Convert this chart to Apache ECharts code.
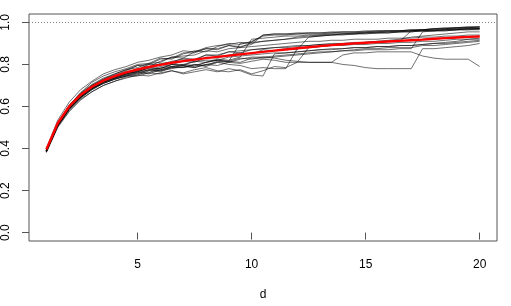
<!DOCTYPE html>
<html>
<head>
<meta charset="utf-8">
<script src="https://cdn.jsdelivr.net/npm/echarts@6/dist/echarts.min.js"></script>
<style>html,body{margin:0;padding:0;background:#fff}#c{width:511px;height:306px}</style>
</head>
<body>
<div id="c"></div>
<script>
const d = [1,1.5,2,2.5,3,3.5,4,4.5,5,5.5,6,6.5,7,7.5,8,8.5,9,9.5,10,10.5,11,11.5,12,12.5,13,13.5,14,14.5,15,15.5,16,16.5,17,17.5,18,18.5,19,19.5,20];
const xTicks = [5,10,15,20];
const yTicks = [0,0.2,0.4,0.6,0.8,1.0];
const refLevel = 1.0;

const meanLine = [0.395,0.52,0.60,0.655,0.694,0.723,0.744,0.762,0.776,0.788,0.798,0.808,0.816,0.823,0.83,0.836,0.842,0.848,0.854,0.86,0.866,0.871,0.877,0.882,0.887,0.892,0.896,0.900,0.903,0.906,0.909,0.912,0.915,0.918,0.922,0.925,0.928,0.931,0.933];

const s1 = [0.39,0.52,0.605,0.665,0.715,0.745,0.765,0.78,0.80,0.805,0.83,0.825,0.85,0.865,0.86,0.885,0.90,0.895,0.91,0.935,0.94,0.94,0.945,0.945,0.945,0.95,0.95,0.95,0.955,0.955,0.96,0.96,0.96,0.965,0.97,0.975,0.975,0.98,0.98];
const s2 = [0.39,0.515,0.60,0.655,0.70,0.73,0.75,0.77,0.795,0.79,0.815,0.835,0.83,0.86,0.875,0.87,0.89,0.88,0.905,0.94,0.945,0.945,0.945,0.95,0.95,0.95,0.955,0.955,0.955,0.96,0.96,0.96,0.965,0.965,0.97,0.97,0.975,0.975,0.975];
const s3 = [0.385,0.51,0.59,0.645,0.685,0.715,0.735,0.755,0.765,0.785,0.78,0.80,0.815,0.81,0.835,0.83,0.845,0.855,0.85,0.87,0.865,0.875,0.87,0.93,0.935,0.94,0.94,0.945,0.945,0.95,0.95,0.955,0.955,0.96,0.96,0.965,0.965,0.97,0.97];
const s4 = [0.385,0.505,0.58,0.635,0.67,0.70,0.72,0.735,0.75,0.745,0.76,0.77,0.76,0.775,0.785,0.77,0.765,0.775,0.755,0.77,0.79,0.785,0.81,0.88,0.885,0.89,0.895,0.90,0.905,0.91,0.915,0.92,0.93,0.935,0.94,0.945,0.95,0.955,0.955];
const s5 = [0.39,0.51,0.59,0.645,0.685,0.715,0.735,0.75,0.765,0.76,0.785,0.79,0.80,0.795,0.81,0.82,0.815,0.83,0.825,0.835,0.83,0.82,0.815,0.81,0.81,0.81,0.80,0.795,0.785,0.78,0.78,0.78,0.78,0.875,0.875,0.88,0.885,0.89,0.90];
const s6 = [0.39,0.515,0.595,0.65,0.69,0.72,0.74,0.755,0.77,0.78,0.775,0.785,0.795,0.785,0.80,0.795,0.81,0.805,0.815,0.825,0.82,0.81,0.81,0.81,0.81,0.81,0.845,0.855,0.855,0.86,0.86,0.86,0.86,0.84,0.83,0.825,0.825,0.825,0.79];
const s7 = [0.39,0.52,0.60,0.66,0.70,0.73,0.755,0.775,0.785,0.805,0.81,0.835,0.84,0.845,0.865,0.86,0.875,0.88,0.885,0.89,0.895,0.90,0.905,0.91,0.91,0.915,0.915,0.92,0.92,0.92,0.925,0.925,0.925,0.93,0.93,0.935,0.935,0.94,0.94];
const s8 = [0.385,0.51,0.585,0.64,0.68,0.71,0.73,0.745,0.76,0.755,0.775,0.79,0.795,0.79,0.81,0.82,0.815,0.90,0.905,0.91,0.915,0.92,0.925,0.93,0.935,0.94,0.945,0.945,0.95,0.95,0.955,0.955,0.96,0.96,0.965,0.965,0.97,0.97,0.97];
const s9 = [0.38,0.50,0.575,0.63,0.67,0.70,0.72,0.74,0.745,0.76,0.755,0.77,0.755,0.765,0.775,0.765,0.78,0.77,0.75,0.745,0.85,0.855,0.86,0.865,0.87,0.875,0.875,0.88,0.88,0.885,0.885,0.89,0.89,0.895,0.90,0.905,0.91,0.92,0.92];
const s10 = [0.40,0.535,0.62,0.68,0.72,0.755,0.775,0.79,0.81,0.82,0.835,0.845,0.865,0.86,0.88,0.89,0.895,0.905,0.90,0.91,0.915,0.92,0.93,0.935,0.94,0.94,0.945,0.945,0.95,0.95,0.95,0.955,0.955,0.96,0.96,0.96,0.965,0.965,0.965];
const s11 = [0.39,0.51,0.59,0.645,0.685,0.715,0.735,0.75,0.76,0.775,0.77,0.79,0.785,0.80,0.795,0.815,0.81,0.825,0.835,0.835,0.84,0.845,0.85,0.855,0.86,0.86,0.865,0.865,0.87,0.87,0.87,0.875,0.875,0.955,0.96,0.96,0.965,0.965,0.97];
const s12 = [0.385,0.505,0.585,0.64,0.68,0.71,0.73,0.745,0.755,0.775,0.77,0.78,0.79,0.785,0.80,0.81,0.80,0.795,0.78,0.785,0.78,0.78,0.875,0.88,0.885,0.89,0.89,0.895,0.895,0.90,0.90,0.905,0.905,0.91,0.91,0.915,0.92,0.92,0.925];
const s13 = [0.39,0.52,0.605,0.665,0.705,0.735,0.755,0.775,0.795,0.80,0.825,0.83,0.855,0.855,0.875,0.875,0.89,0.885,0.895,0.94,0.945,0.945,0.95,0.95,0.95,0.955,0.955,0.955,0.96,0.96,0.96,0.96,0.965,0.965,0.97,0.97,0.975,0.975,0.98];
const s14 = [0.385,0.51,0.59,0.645,0.685,0.71,0.73,0.745,0.75,0.77,0.765,0.785,0.785,0.80,0.79,0.81,0.815,0.81,0.83,0.83,0.835,0.84,0.845,0.85,0.855,0.86,0.865,0.87,0.875,0.875,0.88,0.88,0.88,0.89,0.89,0.895,0.90,0.905,0.91];
const s15 = [0.39,0.515,0.595,0.655,0.695,0.725,0.745,0.765,0.775,0.80,0.80,0.815,0.825,0.82,0.845,0.845,0.86,0.855,0.87,0.875,0.88,0.885,0.89,0.89,0.895,0.90,0.90,0.905,0.905,0.91,0.91,0.915,0.915,0.92,0.92,0.925,0.93,0.93,0.935];
const s16 = [0.385,0.51,0.59,0.645,0.69,0.72,0.74,0.76,0.765,0.785,0.78,0.80,0.795,0.815,0.81,0.825,0.82,0.835,0.92,0.925,0.93,0.935,0.935,0.94,0.94,0.945,0.945,0.95,0.95,0.955,0.955,0.96,0.96,0.965,0.965,0.97,0.97,0.975,0.975];
const s17 = [0.39,0.515,0.60,0.66,0.70,0.725,0.745,0.76,0.78,0.785,0.805,0.81,0.83,0.825,0.845,0.84,0.86,0.865,0.87,0.875,0.88,0.88,0.885,0.89,0.895,0.895,0.90,0.90,0.905,0.905,0.91,0.91,0.96,0.96,0.96,0.965,0.965,0.97,0.97];
const s18 = [0.39,0.51,0.59,0.645,0.69,0.72,0.74,0.755,0.77,0.77,0.79,0.80,0.80,0.815,0.82,0.82,0.835,0.84,0.845,0.85,0.855,0.855,0.86,0.865,0.87,0.87,0.875,0.88,0.88,0.885,0.885,0.89,0.89,0.895,0.90,0.90,0.905,0.91,0.915];

const runs = [s1,s2,s3,s4,s5,s6,s7,s8,s9,s10,s11,s12,s13,s14,s15,s16,s17,s18];

const FONT = '"Liberation Sans", Arial, sans-serif';
const pair = arr => arr.map((v,i)=>[d[i], v]);

const series = runs.map((r, k) => ({
  type: 'line', data: pair(r), symbol: 'none', silent: true,
  lineStyle: { color: 'rgba(0,0,0,0.7)', width: 0.8 }, z: 2
}));
series.push({
  type: 'line', data: pair(meanLine), symbol: 'none', silent: true,
  lineStyle: { color: '#ff0000', width: 2.4 }, z: 5,
  markLine: {
    silent: true, symbol: 'none', label: { show: false },
    lineStyle: { color: '#808080', type: [1, 2], width: 1 },
    data: [{ yAxis: refLevel }]
  }
});

const chart = echarts.init(document.getElementById('c'), null, { renderer: 'canvas' });
chart.setOption({
  animation: false,
  backgroundColor: '#fff',
  grid: { left: 28, right: 14, top: 14, bottom: 57, show: true, borderColor: '#555', borderWidth: 1, backgroundColor: 'transparent' },
  xAxis: {
    type: 'value', min: 0.24, max: 20.76,
    name: 'd', nameLocation: 'middle', nameGap: 48,
    nameTextStyle: { fontFamily: FONT, fontSize: 12, color: '#000' },
    axisLine: { show: false },
    splitLine: { show: false },
    axisTick: { show: true, length: 7, inside: false, customValues: xTicks, lineStyle: { color: '#555' } },
    axisLabel: { customValues: xTicks, margin: 18, fontFamily: FONT, fontSize: 12, color: '#000' }
  },
  yAxis: {
    type: 'value', min: -0.04, max: 1.04,
    axisLine: { show: false },
    splitLine: { show: false },
    axisTick: { show: true, length: 7, inside: false, customValues: yTicks, lineStyle: { color: '#555' } },
    axisLabel: { customValues: yTicks, rotate: 90, margin: 17, align: 'center', verticalAlign: 'bottom',
      fontFamily: FONT, fontSize: 12, color: '#000', formatter: v => v.toFixed(1) }
  },
  series: series
});
</script>
</body>
</html>
